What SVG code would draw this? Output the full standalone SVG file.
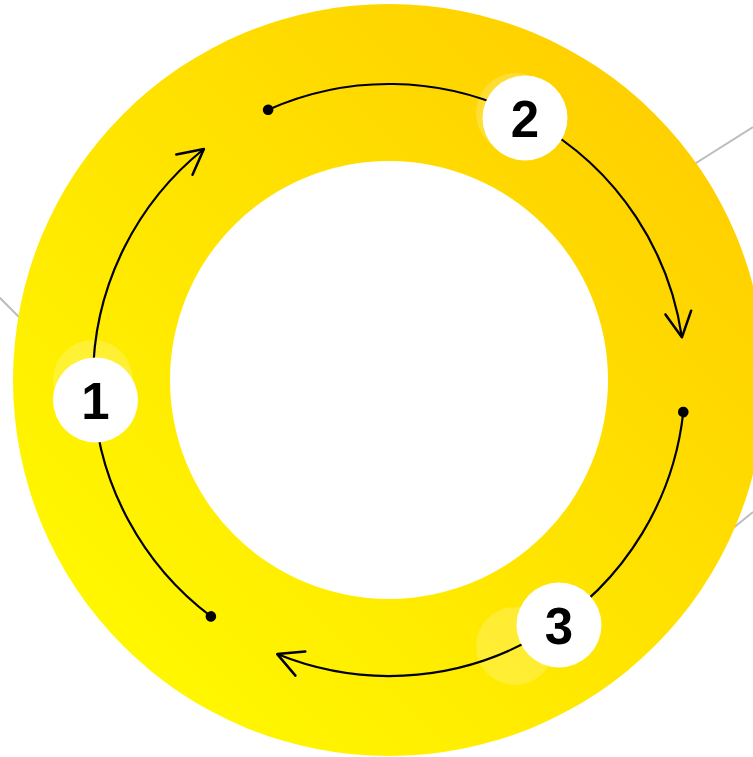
<svg xmlns="http://www.w3.org/2000/svg" width="753" height="757" viewBox="0 0 753 757">
  <style>
    .guide { stroke: #bdbdbd; stroke-width: 2; fill: none; }
    .arc { stroke: #000; stroke-width: 2.2; fill: none; }
    .badge { fill: #ffffff; }
    .halo { fill: #ffffff; fill-opacity: 0.2; }
    .num { font-family: "Liberation Sans", Arial, sans-serif; font-weight: bold; font-size: 51px; fill: #000; text-anchor: middle; }
  </style>
  <defs>
    <linearGradient id="ringGrad" x1="1" y1="0" x2="0" y2="1">
      <stop offset="0" stop-color="#FFC800"/>
      <stop offset="1" stop-color="#FFFF00"/>
    </linearGradient>
    <marker id="dot" markerUnits="userSpaceOnUse" orient="auto" markerWidth="14" markerHeight="14" viewBox="-7 -7 14 14" refX="0" refY="0">
      <circle cx="0" cy="0" r="5.3" fill="#000"/>
    </marker>
    <marker id="arrow" markerUnits="userSpaceOnUse" orient="auto" markerWidth="40" markerHeight="40" viewBox="-30 -20 40 40" refX="0" refY="0" overflow="visible">
      <path d="M-25,-13 L0,0 L-25,13" fill="none" stroke="#000" stroke-width="2.5" stroke-linecap="round" stroke-linejoin="round"/>
    </marker>
  </defs>

  <g id="guides">
    <line class="guide" x1="-10" y1="288" x2="60" y2="358"/>
    <line class="guide" x1="753" y1="127" x2="650" y2="192"/>
    <line class="guide" x1="753" y1="512" x2="700" y2="555"/>
  </g>

  <g id="ring">
    <path d="M13,380 A376,376 0 1,0 765,380 A376,376 0 1,0 13,380 Z M170,380 A219,219 0 1,1 608,380 A219,219 0 1,1 170,380 Z" fill="url(#ringGrad)" fill-rule="evenodd"/>
  </g>

  <g id="halos">
    <circle class="halo" cx="93" cy="380" r="40"/>
    <circle class="halo" cx="516" cy="113" r="40"/>
    <circle class="halo" cx="515" cy="646" r="39"/>
  </g>

  <g id="connectors">
    <path class="arc" d="M210.9,616.4 A296,296 0 0,1 203.9,149.0" marker-start="url(#dot)" marker-end="url(#arrow)"/>
    <path class="arc" d="M268.1,109.8 A296,296 0 0,1 681.9,337.3" marker-start="url(#dot)" marker-end="url(#arrow)"/>
    <path class="arc" d="M683.3,412.0 A296,296 0 0,1 277.2,654.1" marker-start="url(#dot)" marker-end="url(#arrow)"/>
  </g>

  <g id="step1">
    <circle class="badge" cx="95.5" cy="400" r="42.5"/>
    <text class="num" x="95.5" y="419">1</text>
  </g>
  <g id="step2">
    <circle class="badge" cx="525" cy="118" r="42.5"/>
    <text class="num" x="525" y="137">2</text>
  </g>
  <g id="step3">
    <circle class="badge" cx="559" cy="625" r="42.5"/>
    <text class="num" x="559" y="644">3</text>
  </g>
</svg>
